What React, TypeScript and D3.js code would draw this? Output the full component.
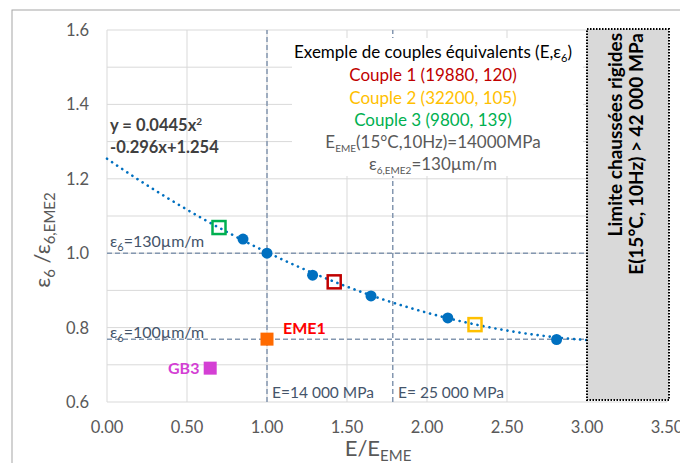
import React from "react";
import * as d3 from "d3";

const W = 680, H = 463;
const xTicks = [0, 0.5, 1, 1.5, 2, 2.5, 3, 3.5];
const xTickLabels = ["0.00", "0.50", "1.00", "1.50", "2.00", "2.50", "3.00", "3.50"];
const yGrid = [0.6, 0.7, 0.8, 0.9, 1.0, 1.1, 1.2, 1.3, 1.4, 1.5, 1.6];
const yTicks = [0.6, 0.8, 1.0, 1.2, 1.4, 1.6];
const yTickLabels = ["0.6", "0.8", "1.0", "1.2", "1.4", "1.6"];

const ptsX = [0.85, 1.0, 1.285, 1.65, 2.13, 2.81];
const ptsY = [1.038, 1.0, 0.941, 0.885, 0.826, 0.768];

const coupleNames = ["Couple 1 (19880, 120)", "Couple 2 (32200, 105)", "Couple 3 (9800, 139)"];
const coupleX = [1.42, 2.3, 0.7];
const coupleY = [0.923, 0.808, 1.069];
const coupleColors = ["#c00000", "#ffc000", "#00b050"];

const refX = [1.0, 1.786];
const refY = [1.0, 0.769];

const fitA = 0.0445, fitB = -0.296, fitC = 1.254;
const fitXs = d3.range(0, 3.0001, 0.02);

export default function App() {
  const x = d3.scaleLinear().domain([0, 3.5]).range([107, 667]);
  const y = d3.scaleLinear().domain([0.6, 1.6]).range([402, 30]);
  const line = d3.line<number>().x((d) => x(d)).y((d) => y(fitA * d * d + fitB * d + fitC));
  const font = "Lato, 'Open Sans', sans-serif";
  const refColor = "#8497b0";
  const txtRef = "#44546a";
  return (
    <svg width={W} height={H} style={{ position: "absolute", left: 0, top: 0, background: "#fff" }} fontFamily={font}>
      <rect x={0} y={0} width={W} height={H} fill="#fff" />
      <rect x={12} y={10} width={720} height={500} fill="none" stroke="#a6a6a6" strokeWidth={1} />
      {/* grid */}
      {yGrid.map((v) => (
        <line key={"gy" + v} x1={x(0)} x2={x(3.5)} y1={y(v)} y2={y(v)} stroke="#d9d9d9" strokeWidth={1} />
      ))}
      {xTicks.map((v) => (
        <line key={"gx" + v} x1={x(v)} x2={x(v)} y1={y(0.6)} y2={y(1.6)} stroke="#d9d9d9" strokeWidth={1} />
      ))}
      {/* tick labels */}
      {yTicks.map((v, i) => (
        <text key={"yt" + v} x={89} y={y(v) + 6} textAnchor="end" fontSize={16.5} fill="#595959">{yTickLabels[i]}</text>
      ))}
      {xTicks.map((v, i) => (
        <text key={"xt" + v} x={x(v)} y={433} textAnchor="middle" fontSize={16.5} fill="#595959">{xTickLabels[i]}</text>
      ))}
      {/* axis titles */}
      <text x={378} y={456} textAnchor="middle" fontSize={22} fill="#595959">
        E/E<tspan fontSize={15} dy={5}>EME</tspan>
      </text>
      <text transform="translate(50,240) rotate(-90)" textAnchor="middle" fontSize={22} fill="#595959">
        ε<tspan fontSize={15} dy={5}>6</tspan><tspan dy={-5}> /ε</tspan><tspan fontSize={15} dy={5}>6,EME2</tspan>
      </text>
      {/* reference lines */}
      {refY.map((v) => (
        <line key={"ry" + v} x1={x(0)} x2={x(3)} y1={y(v)} y2={y(v)} stroke={refColor} strokeWidth={1.5} strokeDasharray="5 3" />
      ))}
      {refX.map((v) => (
        <line key={"rx" + v} x1={x(v)} x2={x(v)} y1={y(0.6)} y2={y(1.6)} stroke={refColor} strokeWidth={1.5} strokeDasharray="5 3" />
      ))}
      {/* legend box */}
      <rect x={292} y={38} width={291} height={138} fill="#fff" />
      <text x={433} y={58} textAnchor="middle" fontSize={17} fill="#000">
        Exemple de couples équivalents (E,ε<tspan fontSize={11} dy={4}>6</tspan><tspan dy={-4}>)</tspan>
      </text>
      {coupleNames.map((n, i) => (
        <text key={n} x={433} y={81 + i * 22.5} textAnchor="middle" fontSize={17} fill={coupleColors[i]}>{n}</text>
      ))}
      <text x={433} y={148} textAnchor="middle" fontSize={17} fill="#595959">
        E<tspan fontSize={10} dy={4}>EME</tspan><tspan dy={-4}>(15°C,10Hz)=14000MPa</tspan>
      </text>
      <text x={433} y={170} textAnchor="middle" fontSize={17} fill="#595959">
        ε<tspan fontSize={10} dy={4}>6,EME2</tspan><tspan dy={-4}>=130µm/m</tspan>
      </text>
      {/* equation */}
      <text x={110} y={131} fontSize={16.5} fontWeight="bold" fill="#404040">
        y = 0.0445x<tspan fontSize={10} dy={-6}>2</tspan>
      </text>
      <text x={110} y={153} fontSize={16.5} fontWeight="bold" fill="#404040">-0.296x+1.254</text>
      {/* ref labels */}
      <text x={110} y={247} fontSize={16} fill={txtRef}>
        ε<tspan fontSize={11} dy={4}>6</tspan><tspan dy={-4}>=130µm/m</tspan>
      </text>
      <text x={110} y={338} fontSize={16} fill={txtRef}>
        ε<tspan fontSize={11} dy={4}>6</tspan><tspan dy={-4}>=100µm/m</tspan>
      </text>
      <text x={272} y={398} fontSize={15.5} fill={txtRef}>E=14 000 MPa</text>
      <text x={398} y={398} fontSize={15.5} fill={txtRef}>E= 25 000 MPa</text>
      {/* fit curve */}
      <path d={line(fitXs) || ""} fill="none" stroke="#0070c0" strokeWidth={2.6} strokeLinecap="round" strokeDasharray="0.1 6" />
      {/* data points */}
      {ptsX.map((v, i) => (
        <circle key={"p" + i} cx={x(v)} cy={y(ptsY[i])} r={5.5} fill="#0070c0" />
      ))}
      {/* couples */}
      {coupleX.map((v, i) => (
        <rect key={"c" + i} x={x(v) - 6.5} y={y(coupleY[i]) - 6.5} width={13} height={13} fill="none" stroke={coupleColors[i]} strokeWidth={2.5} />
      ))}
      {/* EME1 & GB3 */}
      <rect x={x(1.0) - 6.5} y={y(0.769) - 6.5} width={13} height={13} fill="#ff6a00" />
      <text x={283} y={334} fontSize={16} fontWeight="bold" fill="#ff0000">EME1</text>
      <rect x={x(0.645) - 6.5} y={y(0.691) - 6.5} width={13} height={13} fill="#d43fd4" />
      <text x={168} y={374} fontSize={16} fontWeight="bold" fill="#d43fd4">GB3</text>
      {/* rigid pavement box */}
      <rect x={587} y={29} width={82} height={371} fill="#d9d9d9" stroke="#000" strokeWidth={2} strokeDasharray="1.5 1.5" />
      <text transform="translate(622,33) rotate(-90)" textAnchor="end" fontSize={19} fontWeight="bold" fill="#000">Limite chaussées rigides</text>
      <text transform="translate(643,33) rotate(-90)" textAnchor="end" fontSize={19} fontWeight="bold" fill="#000">E(15°C, 10Hz) &gt; 42 000 MPa</text>
    </svg>
  );
}
